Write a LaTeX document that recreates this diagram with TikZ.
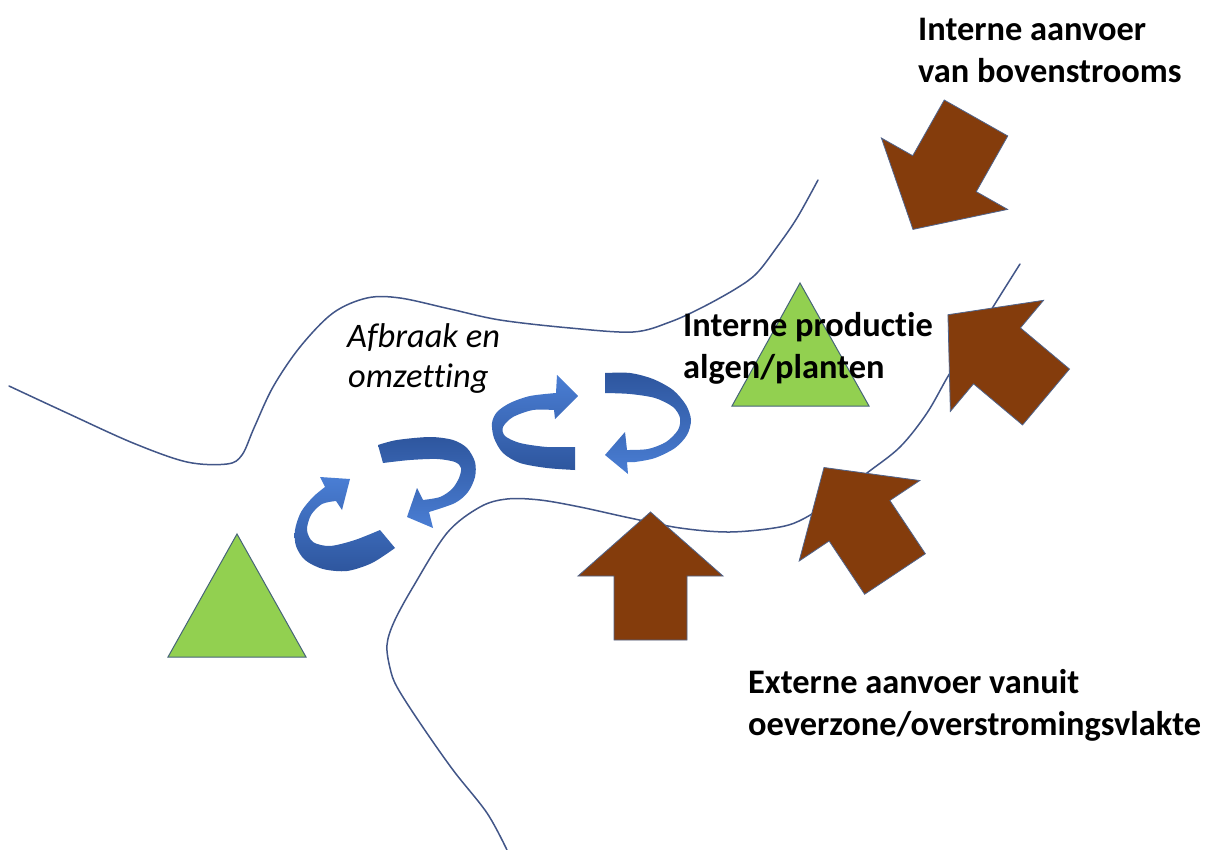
\documentclass[tikz,border=0pt]{standalone}
\usepackage{fontspec}
\setmainfont{Carlito}[Ligatures=NoCommon]
\definecolor{bankline}{RGB}{66,86,136}
\definecolor{soilbrown}{RGB}{132,60,12}
\definecolor{arrowedge}{RGB}{80,100,140}
\definecolor{plantgreen}{RGB}{146,208,80}
\definecolor{plantedge}{RGB}{70,100,120}
\definecolor{cyclelight}{RGB}{74,126,212}
\definecolor{cycledark}{RGB}{46,86,158}

\tikzset{
  bank/.style={draw=bankline, line width=1.5pt, line cap=round},
  supply/.style={fill=soilbrown, draw=arrowedge, line width=0.8pt, line join=miter},
  plant/.style={fill=plantgreen, draw=plantedge, line width=1pt, line join=miter},
  cycleup/.style={top color=cyclelight, bottom color=cycledark},
  cycledown/.style={top color=cycledark, bottom color=cyclelight},
  lbl/.style={inner sep=0pt, anchor=base west, text=black,
              font=\bfseries\fontsize{34.4}{42}\selectfont},
  lblit/.style={lbl, font=\itshape\fontsize{34.4}{42}\selectfont},
}

% block arrow: base centre at (#1,#2), turned by #3 degrees
\newcommand\supplyarrow[3]{%
  \path[supply, shift={(#1,#2)}, rotate=#3]
    (-36.5,0) -- (36.5,0) -- (36.5,-64) -- (72.5,-64) -- (0,-128)
    -- (-72.5,-64) -- (-36.5,-64) -- cycle;}

\begin{document}
\begin{tikzpicture}[x=1pt, y=-1pt]
  \fill[white] (0,0) rectangle (1208,850);
  \useasboundingbox (0,0) rectangle (1208,850);

  % river banks
  \draw[bank] plot[smooth, tension=0.55] coordinates {
    (9,386) (67,413) (133,443) (187,462) (227,464) (242,455) (254,428)
    (273,387) (300,347) (333,313) (367,298) (400,298) (450,309) (500,320)
    (570,328) (633,332) (670,322) (703,307) (737,288) (757,273) (777,247)
    (797,218) (818,180)};
  \draw[bank] plot[smooth, tension=0.55] coordinates {
    (1020,264) (993,307) (973,340) (950,373) (927,413) (900,447) (867,473)
    (835,498) (805,518) (780,527) (730,532) (680,528) (630,518) (580,507)
    (540,500) (507,499) (480,507) (447,533) (413,587) (394,622) (387,645)
    (390,668) (397,687) (420,723) (453,770) (487,813) (507,850)};

  % plants
  \path[plant] (237,534) -- (168,657) -- (306,657) -- cycle;
  \path[plant] (800,283) -- (732,406) -- (869,406) -- cycle;

  % cycling arrows
  \shade[cycleup] plot[smooth] coordinates {
      (575,470) (547,468) (520,463) (503,453) (494,438) (492,423) (497,412)
      (510,403) (530,396) (556,393)}
    -- (557,375) -- (578,396) -- (555,419)
    -- plot[smooth] coordinates {
      (554,410) (533,410) (513,417) (503,427) (505,436) (520,443) (547,447)
      (575,447)} -- cycle;
  \shade[cycledown] plot[smooth] coordinates {
      (605,373) (630,373) (653,379) (673,390) (686,405) (691,420) (687,435)
      (675,448) (655,458) (635,462) (627,462)}
    -- (628,474) -- (605,455) -- (625,432)
    -- plot[smooth] coordinates {
      (627,450) (648,449) (666,442) (678,430) (680,418) (673,407) (655,398)
      (630,394) (605,393)} -- cycle;
  \shade[cycledown] plot[smooth] coordinates {
      (378,445) (397,440) (430,437) (453,440) (467,448) (475,462) (475,477)
      (468,492) (455,503) (429,512)}
    -- (433,528) -- (407,517) -- (417,488)
    -- plot[smooth] coordinates {
      (423,500) (440,497) (452,489) (459,478) (461,468) (455,462) (437,459)
      (410,460) (383,463)} -- cycle;
  \shade[cycleup] plot[smooth] coordinates {
      (395,548) (372,563) (347,571) (323,569) (305,560) (296,546) (295,530)
      (301,512) (313,497) (325,487)}
    -- (320,477) -- (350,479) -- (342,510)
    -- plot[smooth] coordinates {
      (336,501) (322,504) (311,515) (307,530) (313,542) (330,546) (355,540)
      (380,530)} -- cycle;

  % supply arrows
  \supplyarrow{650.5}{640}{0}
  \supplyarrow{895}{574}{33.7}
  \supplyarrow{1046}{397}{50}
  \supplyarrow{976}{118}{150.5}

  % labels
  \node[lbl] (up1) at (918,41) {Interne aanvoer};
  \node[lbl] (up2) at (918,83) {van bovenstrooms};
  \node[lbl] (prod1) at (683,337) {Interne productie};
  \node[lbl] (prod2) at (683,378) {algen/planten};
  \node[lbl] (ext1) at (748,693) {Externe aanvoer vanuit};
  \node[lbl] (ext2) at (748,735) {oeverzone/overstromingsvlakte};
  \node[lblit] (cyc1) at (347,348) {Afbraak en};
  \node[lblit] (cyc2) at (348,388) {omzetting};
\end{tikzpicture}
\end{document}
